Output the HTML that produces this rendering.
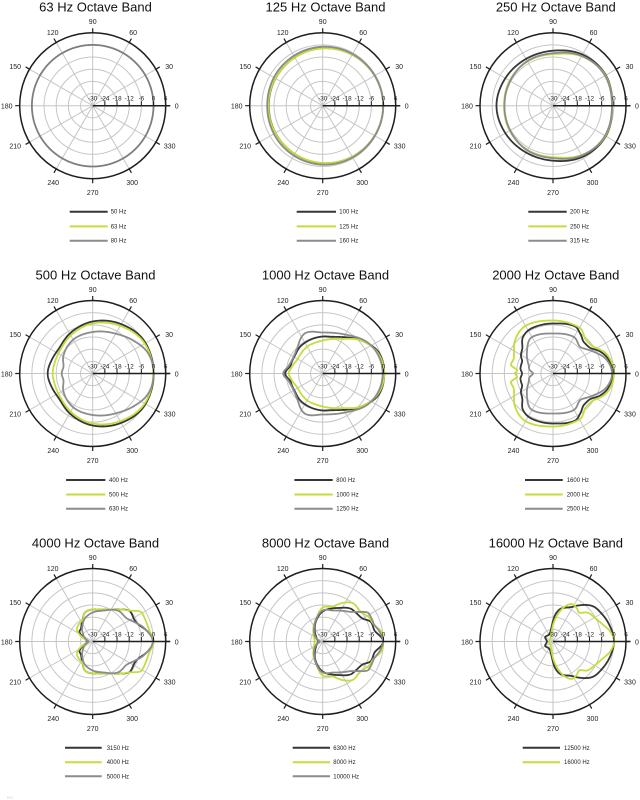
<!DOCTYPE html>
<html><head><meta charset="utf-8">
<style>
html,body{margin:0;padding:0;background:#fff;}
svg{display:block;font-family:"Liberation Sans",sans-serif;}
.t{font-size:13px;fill:#111;text-anchor:middle}
.a{font-size:7px;fill:#222;text-anchor:middle}
.d{font-size:6.3px;fill:#222;text-anchor:middle}
.l{font-size:6px;fill:#222}
</style></head><body>
<svg width="640" height="800" viewBox="0 0 640 800" xmlns="http://www.w3.org/2000/svg">
<defs>
<g id="grid">
 <g fill="none" stroke="#c6c6c6" stroke-width="1">
  <circle r="12.17"/><circle r="24.33"/><circle r="36.5"/><circle r="48.67"/><circle r="60.83"/>
  <path d="M0 0L-73 0M0 0L63.2 -36.5M0 0L36.5 -63.2M0 0L0 -73M0 0L-36.5 -63.2M0 0L-63.2 -36.5M0 0L-63.2 36.5M0 0L-36.5 63.2M0 0L0 73M0 0L36.5 63.2M0 0L63.2 36.5"/>
 </g>
 <circle r="73" fill="none" stroke="#1e1e1e" stroke-width="1.5"/>
 <path stroke="#1e1e1e" stroke-width="1.2" d="M73 0L77.5 0M63.2 -36.5L67.1 -38.75M36.5 -63.2L38.75 -67.1M0 -73L0 -77.5M-36.5 -63.2L-38.75 -67.1M-63.2 -36.5L-67.1 -38.75M-73 0L-77.5 0M-63.2 36.5L-67.1 38.75M-36.5 63.2L-38.75 67.1M0 73L0 77.5M36.5 63.2L38.75 67.1M63.2 36.5L67.1 38.75"/>
</g>
<g id="axis">
 <path d="M0 0H77.5" stroke="#1e1e1e" stroke-width="1.5"/>
 <path d="M12.17 0V-4.5M24.33 0V-4.5M36.5 0V-4.5M48.67 0V-4.5M60.83 0V-4.5M73 0V-4.5" stroke="#1e1e1e" stroke-width="1"/>
</g>
</defs>

<!-- Cell 1 -->
<g transform="translate(92.7,105.7)">
<use href="#grid"/><g id="c0"></g><use href="#axis"/>
<text class="t" x="2.8" y="-94">63 Hz Octave Band</text>
<text class="a" x="84" y="3">0</text><text class="a" x="76.5" y="-36.5">30</text><text class="a" x="40.5" y="-70.5">60</text><text class="a" x="0" y="-81.5">90</text><text class="a" x="-40" y="-70.5">120</text><text class="a" x="-77.5" y="-36.5">150</text><text class="a" x="-86" y="3">180</text><text class="a" x="-77.5" y="43">210</text><text class="a" x="-39.5" y="79.5">240</text><text class="a" x="0" y="89.5">270</text><text class="a" x="39.5" y="79.5">300</text><text class="a" x="77" y="43">330</text>
<text class="d" x="0" y="-5">-30</text><text class="d" x="12.17" y="-5">-24</text><text class="d" x="24.33" y="-5">-18</text><text class="d" x="36.5" y="-5">-12</text><text class="d" x="48.67" y="-5">-6</text><text class="d" x="60.83" y="-5">0</text><text class="d" x="73" y="-5">6</text>
<path d="M-23 106H15" stroke="#363636" stroke-width="2"/><text class="l" x="18" y="108">50 Hz</text>
<path d="M-23 120.7H15" stroke="#c4dd3a" stroke-width="2"/><text class="l" x="18" y="122.7">63 Hz</text>
<path d="M-23 135H15" stroke="#8c8c8c" stroke-width="2"/><text class="l" x="18" y="137">80 Hz</text>
</g>

<!-- Cell 2 -->
<g transform="translate(322.7,105.7)">
<use href="#grid"/><g id="c1"></g><use href="#axis"/>
<text class="t" x="2.8" y="-94">125 Hz Octave Band</text>
<text class="a" x="84" y="3">0</text><text class="a" x="76.5" y="-36.5">30</text><text class="a" x="40.5" y="-70.5">60</text><text class="a" x="0" y="-81.5">90</text><text class="a" x="-40" y="-70.5">120</text><text class="a" x="-77.5" y="-36.5">150</text><text class="a" x="-86" y="3">180</text><text class="a" x="-77.5" y="43">210</text><text class="a" x="-39.5" y="79.5">240</text><text class="a" x="0" y="89.5">270</text><text class="a" x="39.5" y="79.5">300</text><text class="a" x="77" y="43">330</text>
<text class="d" x="0" y="-5">-30</text><text class="d" x="12.17" y="-5">-24</text><text class="d" x="24.33" y="-5">-18</text><text class="d" x="36.5" y="-5">-12</text><text class="d" x="48.67" y="-5">-6</text><text class="d" x="60.83" y="-5">0</text><text class="d" x="73" y="-5">6</text>
<path d="M-26 106H13.3" stroke="#363636" stroke-width="2"/><text class="l" x="16.6" y="108">100 Hz</text>
<path d="M-26 120.7H13.3" stroke="#c4dd3a" stroke-width="2"/><text class="l" x="16.6" y="122.7">125 Hz</text>
<path d="M-26 135H13.3" stroke="#8c8c8c" stroke-width="2"/><text class="l" x="16.6" y="137">160 Hz</text>
</g>

<!-- Cell 3 -->
<g transform="translate(553,105.7)">
<use href="#grid"/><g id="c2"></g><use href="#axis"/>
<text class="t" x="2.8" y="-94">250 Hz Octave Band</text>
<text class="a" x="84" y="3">0</text><text class="a" x="76.5" y="-36.5">30</text><text class="a" x="40.5" y="-70.5">60</text><text class="a" x="0" y="-81.5">90</text><text class="a" x="-40" y="-70.5">120</text><text class="a" x="-77.5" y="-36.5">150</text><text class="a" x="-86" y="3">180</text><text class="a" x="-77.5" y="43">210</text><text class="a" x="-39.5" y="79.5">240</text><text class="a" x="0" y="89.5">270</text><text class="a" x="39.5" y="79.5">300</text><text class="a" x="77" y="43">330</text>
<text class="d" x="0" y="-5">-30</text><text class="d" x="12.17" y="-5">-24</text><text class="d" x="24.33" y="-5">-18</text><text class="d" x="36.5" y="-5">-12</text><text class="d" x="48.67" y="-5">-6</text><text class="d" x="60.83" y="-5">0</text><text class="d" x="73" y="-5">6</text>
<path d="M-24.7 106H13.7" stroke="#363636" stroke-width="2"/><text class="l" x="17" y="108">200 Hz</text>
<path d="M-24.7 120.7H13.7" stroke="#c4dd3a" stroke-width="2"/><text class="l" x="17" y="122.7">250 Hz</text>
<path d="M-24.7 135H13.7" stroke="#8c8c8c" stroke-width="2"/><text class="l" x="17" y="137">315 Hz</text>
</g>

<!-- Cell 4 -->
<g transform="translate(92.7,373.5)">
<use href="#grid"/><g id="c3"></g><use href="#axis"/>
<text class="t" x="2.8" y="-94">500 Hz Octave Band</text>
<text class="a" x="84" y="3">0</text><text class="a" x="76.5" y="-36.5">30</text><text class="a" x="40.5" y="-70.5">60</text><text class="a" x="0" y="-81.5">90</text><text class="a" x="-40" y="-70.5">120</text><text class="a" x="-77.5" y="-36.5">150</text><text class="a" x="-86" y="3">180</text><text class="a" x="-77.5" y="43">210</text><text class="a" x="-39.5" y="79.5">240</text><text class="a" x="0" y="89.5">270</text><text class="a" x="39.5" y="79.5">300</text><text class="a" x="77" y="43">330</text>
<text class="d" x="0" y="-5">-30</text><text class="d" x="12.17" y="-5">-24</text><text class="d" x="24.33" y="-5">-18</text><text class="d" x="36.5" y="-5">-12</text><text class="d" x="48.67" y="-5">-6</text><text class="d" x="60.83" y="-5">0</text><text class="d" x="73" y="-5">6</text>
<path d="M-26.6 106.5H12.7" stroke="#363636" stroke-width="2"/><text class="l" x="16.3" y="108.5">400 Hz</text>
<path d="M-26.6 121H12.7" stroke="#c4dd3a" stroke-width="2"/><text class="l" x="16.3" y="123">500 Hz</text>
<path d="M-26.6 135.2H12.7" stroke="#8c8c8c" stroke-width="2"/><text class="l" x="16.3" y="137.2">630 Hz</text>
</g>

<!-- Cell 5 -->
<g transform="translate(322.7,373.5)">
<use href="#grid"/><g id="c4"></g><use href="#axis"/>
<text class="t" x="2.8" y="-94">1000 Hz Octave Band</text>
<text class="a" x="84" y="3">0</text><text class="a" x="76.5" y="-36.5">30</text><text class="a" x="40.5" y="-70.5">60</text><text class="a" x="0" y="-81.5">90</text><text class="a" x="-40" y="-70.5">120</text><text class="a" x="-77.5" y="-36.5">150</text><text class="a" x="-86" y="3">180</text><text class="a" x="-77.5" y="43">210</text><text class="a" x="-39.5" y="79.5">240</text><text class="a" x="0" y="89.5">270</text><text class="a" x="39.5" y="79.5">300</text><text class="a" x="77" y="43">330</text>
<text class="d" x="0" y="-5">-30</text><text class="d" x="12.17" y="-5">-24</text><text class="d" x="24.33" y="-5">-18</text><text class="d" x="36.5" y="-5">-12</text><text class="d" x="48.67" y="-5">-6</text><text class="d" x="60.83" y="-5">0</text><text class="d" x="73" y="-5">6</text>
<path d="M-28.3 106.5H10" stroke="#363636" stroke-width="2"/><text class="l" x="13.6" y="108.5">800 Hz</text>
<path d="M-28.3 121H10" stroke="#c4dd3a" stroke-width="2"/><text class="l" x="13.6" y="123">1000 Hz</text>
<path d="M-28.3 135.2H10" stroke="#8c8c8c" stroke-width="2"/><text class="l" x="13.6" y="137.2">1250 Hz</text>
</g>

<!-- Cell 6 -->
<g transform="translate(553,373.5)">
<use href="#grid"/><g id="c5"></g><use href="#axis"/>
<text class="t" x="2.8" y="-94">2000 Hz Octave Band</text>
<text class="a" x="84" y="3">0</text><text class="a" x="76.5" y="-36.5">30</text><text class="a" x="40.5" y="-70.5">60</text><text class="a" x="0" y="-81.5">90</text><text class="a" x="-40" y="-70.5">120</text><text class="a" x="-77.5" y="-36.5">150</text><text class="a" x="-86" y="3">180</text><text class="a" x="-77.5" y="43">210</text><text class="a" x="-39.5" y="79.5">240</text><text class="a" x="0" y="89.5">270</text><text class="a" x="39.5" y="79.5">300</text><text class="a" x="77" y="43">330</text>
<text class="d" x="0" y="-5">-30</text><text class="d" x="12.17" y="-5">-24</text><text class="d" x="24.33" y="-5">-18</text><text class="d" x="36.5" y="-5">-12</text><text class="d" x="48.67" y="-5">-6</text><text class="d" x="60.83" y="-5">0</text><text class="d" x="73" y="-5">6</text>
<path d="M-28 106.5H9.7" stroke="#363636" stroke-width="2"/><text class="l" x="13.7" y="108.5">1600 Hz</text>
<path d="M-28 121H9.7" stroke="#c4dd3a" stroke-width="2"/><text class="l" x="13.7" y="123">2000 Hz</text>
<path d="M-28 135.2H9.7" stroke="#8c8c8c" stroke-width="2"/><text class="l" x="13.7" y="137.2">2500 Hz</text>
</g>

<!-- Cell 7 -->
<g transform="translate(92.7,641.5)">
<use href="#grid"/><g id="c6"></g><use href="#axis"/>
<text class="t" x="2.8" y="-94">4000 Hz Octave Band</text>
<text class="a" x="84" y="3">0</text><text class="a" x="76.5" y="-36.5">30</text><text class="a" x="40.5" y="-70.5">60</text><text class="a" x="0" y="-81.5">90</text><text class="a" x="-40" y="-70.5">120</text><text class="a" x="-77.5" y="-36.5">150</text><text class="a" x="-86" y="3">180</text><text class="a" x="-77.5" y="43">210</text><text class="a" x="-39.5" y="79.5">240</text><text class="a" x="0" y="89.5">270</text><text class="a" x="39.5" y="79.5">300</text><text class="a" x="77" y="43">330</text>
<text class="d" x="0" y="-5">-30</text><text class="d" x="12.17" y="-5">-24</text><text class="d" x="24.33" y="-5">-18</text><text class="d" x="36.5" y="-5">-12</text><text class="d" x="48.67" y="-5">-6</text><text class="d" x="60.83" y="-5">0</text><text class="d" x="73" y="-5">6</text>
<path d="M-27.7 106.3H9" stroke="#363636" stroke-width="2"/><text class="l" x="14" y="108.3">3150 Hz</text>
<path d="M-27.7 120.7H9" stroke="#c4dd3a" stroke-width="2"/><text class="l" x="14" y="122.7">4000 Hz</text>
<path d="M-27.7 134.8H9" stroke="#8c8c8c" stroke-width="2"/><text class="l" x="14" y="136.8">5000 Hz</text>
</g>

<!-- Cell 8 -->
<g transform="translate(322.7,641.5)">
<use href="#grid"/><g id="c7"></g><use href="#axis"/>
<text class="t" x="2.8" y="-94">8000 Hz Octave Band</text>
<text class="a" x="84" y="3">0</text><text class="a" x="76.5" y="-36.5">30</text><text class="a" x="40.5" y="-70.5">60</text><text class="a" x="0" y="-81.5">90</text><text class="a" x="-40" y="-70.5">120</text><text class="a" x="-77.5" y="-36.5">150</text><text class="a" x="-86" y="3">180</text><text class="a" x="-77.5" y="43">210</text><text class="a" x="-39.5" y="79.5">240</text><text class="a" x="0" y="89.5">270</text><text class="a" x="39.5" y="79.5">300</text><text class="a" x="77" y="43">330</text>
<text class="d" x="0" y="-5">-30</text><text class="d" x="12.17" y="-5">-24</text><text class="d" x="24.33" y="-5">-18</text><text class="d" x="36.5" y="-5">-12</text><text class="d" x="48.67" y="-5">-6</text><text class="d" x="60.83" y="-5">0</text><text class="d" x="73" y="-5">6</text>
<path d="M-30 106.3H7.3" stroke="#363636" stroke-width="2"/><text class="l" x="10.6" y="108.3">6300 Hz</text>
<path d="M-30 120.7H7.3" stroke="#c4dd3a" stroke-width="2"/><text class="l" x="10.6" y="122.7">8000 Hz</text>
<path d="M-30 134.8H7.3" stroke="#8c8c8c" stroke-width="2"/><text class="l" x="10.6" y="136.8">10000 Hz</text>
</g>

<!-- Cell 9 -->
<g transform="translate(553,641.5)">
<use href="#grid"/><g id="c8"></g><use href="#axis"/>
<text class="t" x="2.8" y="-94">16000 Hz Octave Band</text>
<text class="a" x="84" y="3">0</text><text class="a" x="76.5" y="-36.5">30</text><text class="a" x="40.5" y="-70.5">60</text><text class="a" x="0" y="-81.5">90</text><text class="a" x="-40" y="-70.5">120</text><text class="a" x="-77.5" y="-36.5">150</text><text class="a" x="-86" y="3">180</text><text class="a" x="-77.5" y="43">210</text><text class="a" x="-39.5" y="79.5">240</text><text class="a" x="0" y="89.5">270</text><text class="a" x="39.5" y="79.5">300</text><text class="a" x="77" y="43">330</text>
<text class="d" x="0" y="-5">-30</text><text class="d" x="12.17" y="-5">-24</text><text class="d" x="24.33" y="-5">-18</text><text class="d" x="36.5" y="-5">-12</text><text class="d" x="48.67" y="-5">-6</text><text class="d" x="60.83" y="-5">0</text><text class="d" x="73" y="-5">6</text>
<path d="M-30.3 106.3H7" stroke="#363636" stroke-width="2"/><text class="l" x="11" y="108.3">12500 Hz</text>
<path d="M-30.3 120.7H7" stroke="#c4dd3a" stroke-width="2"/><text class="l" x="11" y="122.7">16000 Hz</text>
</g>

<text x="7" y="799" style="font-size:4px;fill:#d0d0d0">RO</text>
</svg>

<script>
(function(){
var C=[
 [[[0,60.8],[90,60.8],[180,60.8]],[[0,60.8],[90,60.8],[180,60.8]],[[0,60.8],[90,60.8],[180,60.8]]],
 [[[0,60.5],[45,59.5],[90,57.5],[135,55],[180,54]],
  [[0,60.5],[45,59.5],[90,57.3],[135,55],[180,54.3]],
  [[0,60.5],[45,60],[90,59],[135,57],[180,55.5]]],
 [[[0,59],[30,61],[60,59],[90,55],[120,54],[150,55],[180,56.5]],
  [[0,59],[30,60.5],[60,57],[90,51.5],[120,51],[150,50],[180,49]],
  [[0,59],[30,60],[60,57.5],[90,52.5],[120,51.5],[150,49.5],[180,48.5]]],
 [[[0,61],[30,61],[60,57],[90,52],[120,46],[145,42],[160,43],[180,45]],
  [[0,60.5],[30,60],[60,55],[90,50],[120,44],[145,40],[165,39.5],[180,40]],
  [[0,61],[20,59],[40,52],[60,46],[90,41.5],[120,39],[150,34],[168,30],[180,31]]],
 [[[0,61.5],[20,60],[40,51],[60,42],[75,38],[90,37],[110,36],[130,35],[150,33],[165,33],[180,37.5]],
  [[0,61.5],[20,59],[40,51],[60,40],[90,33],[120,31],[150,29],[170,32],[180,34]],
  [[0,60],[30,56],[60,45],[90,41],[112,44],[135,36],[153,33.5],[168,35],[180,39.5]]],
 [[[0,60],[15,57],[25,52],[35,45],[45,44],[55,48],[65,52],[90,50],[115,50],[130,47],[140,40],[150,37],[160,33],[170,33],[180,31]],
  [[0,61],[20,57],[35,48],[45,47],[60,53],[90,53],[120,55],[140,50],[150,45],[160,42],[168,43],[175,36],[180,38]],
  [[0,59],[15,55],[30,45],[45,38],[60,42],[90,40],[120,42],[140,34],[160,26],[170,24],[180,20]]],
 [[[0,60.5],[10,56],[20,49],[28,47],[38,48],[50,42],[60,37],[75,33],[90,32],[105,30],[115,24],[130,18],[145,16],[160,9],[180,5]],
  [[0,61],[10,58],[20,57],[30,57],[40,48],[50,42],[60,37],[75,33],[90,32],[105,30],[115,24],[130,22],[145,19],[160,10],[170,5],[180,4]],
  [[0,60],[15,53],[25,46],[35,41],[50,40],[70,33],[90,29],[110,24],[120,20],[150,10],[180,4]]],
 [[[0,60.5],[12,53],[22,52],[30,46],[40,44],[50,43],[65,37],[90,30],[105,23],[120,16],[140,9],[160,6],[180,4]],
  [[0,60.5],[8,60],[18,54],[28,52],[40,48],[50,49],[60,45],[75,36],[90,34],[105,24],[120,18],[140,12],[160,9],[180,8]],
  [[0,60.5],[9,58],[20,54],[31,54],[40,46],[48,40],[70,33],[90,31],[105,24],[120,17],[150,8],[180,3]]],
 [[[0,61],[15,59],[30,56],[42,53],[55,44],[62,39],[70,36],[78,33],[85,27],[95,15],[110,9],[130,8],[150,9],[165,7],[180,6]],
  [[0,61],[9,58.5],[20,52],[30,48],[40,45],[48,39],[55,41],[62,42],[70,38],[78,30],[85,22],[95,12],[110,6],[140,4],[180,4]]]
];
var col=['#363636','#c4dd3a','#8c8c8c'];
function slope(a,b,c){
  var s0=(b[1]-a[1])/(b[0]-a[0]), s1=(c[1]-b[1])/(c[0]-b[0]);
  if(s0*s1<=0) return 0;
  var m=(c[1]-a[1])/(c[0]-a[0]);
  var lim=3*Math.min(Math.abs(s0),Math.abs(s1));
  if(Math.abs(m)>lim) m=m>0?lim:-lim;
  return m;
}
function samp(p){
  var full=p.slice();
  for(var i=p.length-1;i>=0;i--){var a=p[i][0];if(a>0&&a<180)full.push([360-a,p[i][1]]);}
  var n=full.length;
  var ext=[[full[n-2][0]-360,full[n-2][1]],[full[n-1][0]-360,full[n-1][1]]].concat(full,[[full[0][0]+360,full[0][1]],[full[1][0]+360,full[1][1]]]);
  return function(t){
    var i=1;
    while(i<ext.length-3 && !(ext[i][0]<=t && t<ext[i+1][0])) i++;
    var p0=ext[i-1],p1=ext[i],p2=ext[i+1],p3=ext[i+2];
    var m1=slope(p0,p1,p2), m2=slope(p1,p2,p3);
    var h=p2[0]-p1[0], s=(t-p1[0])/h, s2=s*s, s3=s2*s;
    return (2*s3-3*s2+1)*p1[1]+(s3-2*s2+s)*h*m1+(-2*s3+3*s2)*p2[1]+(s3-s2)*h*m2;
  };
}
var NS='http://www.w3.org/2000/svg';
for(var c=0;c<C.length;c++){
  var g=document.getElementById('c'+c);
  for(var j=0;j<C[c].length;j++){
    if(c===0 && j<2) continue;
    var f=samp(C[c][j]); var d='';
    for(var k=0;k<720;k++){
      var t=k/2, r=Math.max(0,f(t)), a=t*Math.PI/180;
      d+=(k?'L':'M')+(r*Math.cos(a)).toFixed(2)+' '+(-r*Math.sin(a)).toFixed(2);
    }
    d+='Z';
    var el=document.createElementNS(NS,'path');
    el.setAttribute('d',d);el.setAttribute('fill','none');
    el.setAttribute('stroke',c===0?'#7e7e7e':col[j]);el.setAttribute('stroke-width',1.8);
    el.setAttribute('stroke-linejoin','round');
    g.appendChild(el);
  }
}
})();
</script>
</body></html>
